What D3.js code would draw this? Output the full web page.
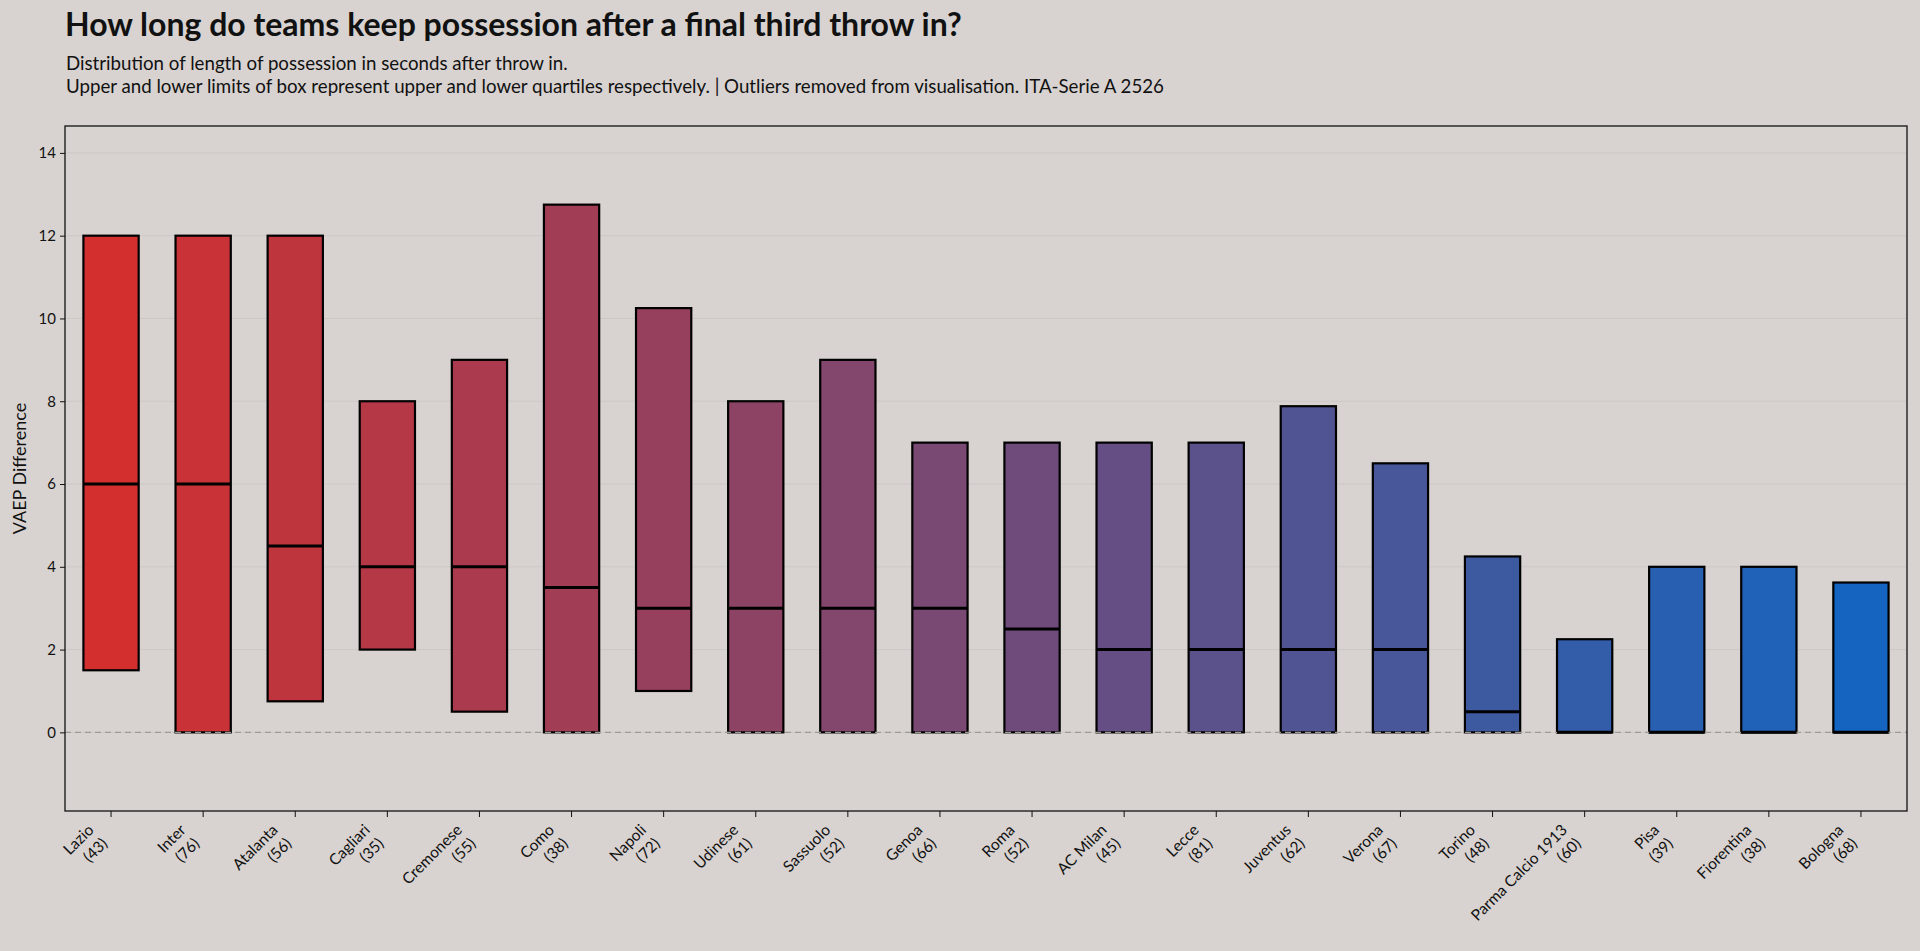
<!DOCTYPE html>
<html>
<head>
<meta charset="utf-8">
<script src="https://cdn.jsdelivr.net/npm/d3@7"></script>
<style>
  body { margin: 0; background: #d8d3d0; }
  svg { display: block; }
  text { font-family: Lato, "Open Sans", sans-serif; fill: #111; }
</style>
</head>
<body>
<svg id="chart" width="1920" height="951"></svg>
<script>
"use strict";

// teams in plot order, with number of throw ins
var teams = ["Lazio", "Inter", "Atalanta", "Cagliari", "Cremonese", "Como", "Napoli", "Udinese", "Sassuolo", "Genoa",
             "Roma", "AC Milan", "Lecce", "Juventus", "Verona", "Torino", "Parma Calcio 1913", "Pisa", "Fiorentina", "Bologna"];
var counts = [43, 76, 56, 35, 55, 38, 72, 61, 52, 66, 52, 45, 81, 62, 67, 48, 60, 39, 38, 68];

// box values (seconds)
var q1     = [1.5, 0, 0.75, 2, 0.5, 0, 1, 0, 0, 0, 0, 0, 0, 0, 0, 0, 0, 0, 0, 0];
var median = [6, 6, 4.5, 4, 4, 3.5, 3, 3, 3, 3, 2.5, 2, 2, 2, 2, 0.5, 0, 0, 0, 0];
var q3     = [12, 12, 12, 8, 9, 12.75, 10.25, 8, 9, 7, 7, 7, 7, 7.88, 6.5, 4.25, 2.25, 4, 4, 3.62];

var yTicks = [0, 2, 4, 6, 8, 10, 12, 14];

var svg = d3.select("#chart");

// plot area
var pLeft = 65, pRight = 1907, pTop = 126, pBottom = 811;

var x = d3.scaleBand()
    .domain(teams)
    .range([pLeft, pRight])
    .padding(0);

var y = d3.scaleLinear()
    .domain([-1.9, 14.65])
    .range([pBottom, pTop]);

var color = d3.scaleLinear()
    .domain([0, teams.length - 1])
    .range(["#d32f2f", "#1565c0"])
    .interpolate(d3.interpolateRgb);

// grid lines
svg.append("g")
    .selectAll("line")
    .data(yTicks)
    .enter()
    .append("line")
    .attr("x1", pLeft)
    .attr("x2", pRight)
    .attr("y1", function(d) { return y(d); })
    .attr("y2", function(d) { return y(d); })
    .attr("stroke", "#cdc8c5")
    .attr("stroke-width", 1);

var boxW = x.bandwidth() * 0.6;

// boxes
svg.append("g")
    .selectAll("rect")
    .data(teams)
    .enter()
    .append("rect")
    .attr("x", function(d) { return x(d) + (x.bandwidth() - boxW) / 2; })
    .attr("width", boxW)
    .attr("y", function(d, i) { return y(q3[i]); })
    .attr("height", function(d, i) { return y(q1[i]) - y(q3[i]); })
    .attr("fill", function(d, i) { return color(i); })
    .attr("stroke", "#000")
    .attr("stroke-width", 2.2);

// zero line
svg.append("line")
    .attr("x1", pLeft)
    .attr("x2", pRight)
    .attr("y1", y(0))
    .attr("y2", y(0))
    .attr("stroke", "#9e9a98")
    .attr("stroke-width", 1.2)
    .attr("stroke-dasharray", "6,4");

// medians
svg.append("g")
    .selectAll("line")
    .data(teams)
    .enter()
    .append("line")
    .attr("x1", function(d) { return x(d) + (x.bandwidth() - boxW) / 2; })
    .attr("x2", function(d) { return x(d) + (x.bandwidth() + boxW) / 2; })
    .attr("y1", function(d, i) { return y(median[i]); })
    .attr("y2", function(d, i) { return y(median[i]); })
    .attr("stroke", "#000")
    .attr("stroke-width", 3);

// frame
svg.append("rect")
    .attr("x", pLeft)
    .attr("y", pTop)
    .attr("width", pRight - pLeft)
    .attr("height", pBottom - pTop)
    .attr("fill", "none")
    .attr("stroke", "#111")
    .attr("stroke-width", 1.3);

// y axis
var yAxis = svg.append("g")
    .attr("transform", "translate(" + pLeft + ",0)")
    .call(d3.axisLeft(y).tickValues(yTicks).tickSize(5).tickPadding(4));
yAxis.select(".domain").remove();
yAxis.selectAll("line").attr("stroke", "#111");
yAxis.selectAll("text").style("font-size", "15px").style("font-family", "Lato, sans-serif").attr("fill", "#111");

// x axis
var xAxis = svg.append("g")
    .attr("transform", "translate(0," + pBottom + ")")
    .call(d3.axisBottom(x).tickSize(6).tickFormat(""));
xAxis.select(".domain").remove();
xAxis.selectAll("line").attr("stroke", "#111");

// rotated two line tick labels
var fs = 15.5, lh = fs * 1.25, blockH = lh * 2;
var lab = svg.append("g")
    .selectAll("g")
    .data(teams)
    .enter()
    .append("g")
    .attr("transform", function(d) {
        var cx = x(d) + x.bandwidth() / 2;
        return "translate(" + (cx - blockH * Math.SQRT1_2) + "," + (pBottom + 9) + ") rotate(-45)";
    });
lab.append("text")
    .attr("text-anchor", "end")
    .style("font-size", fs + "px")
    .each(function(d, i) {
        var t = d3.select(this);
        t.append("tspan").attr("x", 0).attr("y", lh * 0.8).text(d);
        t.append("tspan").attr("x", 0).attr("y", lh * 1.8).text("(" + counts[i] + ")");
    });

// y label
svg.append("text")
    .attr("transform", "translate(26," + ((pTop + pBottom) / 2) + ") rotate(-90)")
    .attr("text-anchor", "middle")
    .style("font-size", "18px")
    .text("VAEP Difference");

// titles
svg.append("text")
    .attr("x", 65)
    .attr("y", 36)
    .style("font-size", "32px")
    .style("font-weight", "bold")
    .text("How long do teams keep possession after a final third throw in?");

svg.append("text")
    .attr("x", 66)
    .attr("y", 70)
    .style("font-size", "18.7px")
    .text("Distribution of length of possession in seconds after throw in.");

svg.append("text")
    .attr("x", 66)
    .attr("y", 93)
    .style("font-size", "18.7px")
    .text("Upper and lower limits of box represent upper and lower quartiles respectively. | Outliers removed from visualisation. ITA-Serie A 2526");
</script>
</body>
</html>
